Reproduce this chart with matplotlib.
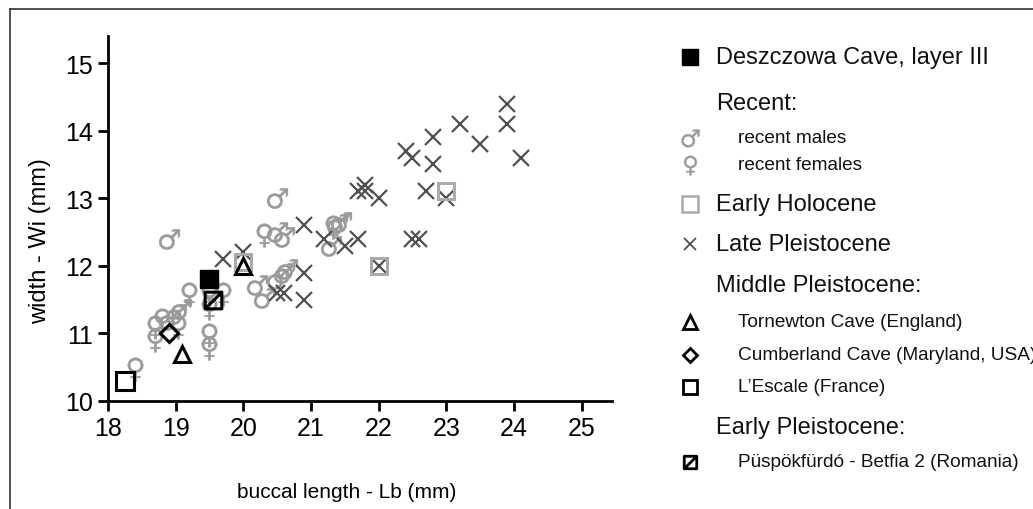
import matplotlib
matplotlib.use("Agg")
import matplotlib.pyplot as plt
from matplotlib.path import Path

plt.rcParams['font.family'] = ['Liberation Sans', 'DejaVu Sans']

# ---------------- data ----------------
deszczowa_x = [19.5]
deszczowa_y = [11.8]

males_x = [18.9, 20.5, 20.5, 20.6, 20.2, 20.3, 20.5, 20.6, 20.65, 21.38, 21.45, 21.3, 18.9, 19.0, 19.08]
males_y = [12.4, 13.0, 12.5, 12.42, 11.72, 11.52, 11.8, 11.9, 11.96, 12.62, 12.65, 12.3, 11.2, 11.28, 11.36]

females_x = [20.3, 19.2, 19.7, 19.5, 19.5, 19.5, 19.5, 18.7, 18.7, 18.8, 19.03, 18.4, 21.33]
females_y = [12.46, 11.58, 11.58, 11.58, 11.38, 10.98, 10.78, 11.1, 10.9, 11.2, 11.1, 10.48, 12.58]

holocene_x = [20.0, 22.0, 23.0]
holocene_y = [12.05, 12.0, 13.1]

late_x = [19.7, 20.0, 20.5, 20.6, 20.9, 20.9, 20.9, 21.2, 21.5, 21.7, 21.7, 21.8, 21.8,
          22.0, 22.0, 22.5, 22.6, 22.4, 22.5, 22.7, 22.8, 22.8, 23.0, 23.2, 23.5, 23.9, 23.9, 24.1]
late_y = [12.1, 12.2, 11.6, 11.6, 11.9, 11.5, 12.6, 12.4, 12.3, 12.4, 13.1, 13.1, 13.2,
          13.0, 12.0, 12.4, 12.4, 13.7, 13.6, 13.1, 13.5, 13.9, 13.0, 14.1, 13.8, 14.1, 14.4, 13.6]

tornewton_x = [19.1, 20.0]
tornewton_y = [10.7, 12.0]

cumberland_x = [18.9]
cumberland_y = [11.0]

escale_x = [18.25]
escale_y = [10.3]

puspok_x = [19.55]
puspok_y = [11.5]

x_ticks = [18, 19, 20, 21, 22, 23, 24, 25]
y_ticks = [10, 11, 12, 13, 14, 15]

legend_entries = [
    ("square_black", "Deszczowa Cave, layer III", "main"),
    (None, "Recent:", "header"),
    ("male", "recent males", "sub"),
    ("female", "recent females", "sub"),
    ("square_grey", "Early Holocene", "main"),
    ("x", "Late Pleistocene", "main"),
    (None, "Middle Pleistocene:", "header"),
    ("triangle", "Tornewton Cave (England)", "sub"),
    ("diamond", "Cumberland Cave (Maryland, USA)", "sub"),
    ("square_open", "L\u2019Escale (France)", "sub"),
    (None, "Early Pleistocene:", "header"),
    ("slash_square", "P\u00fcsp\u00f6kf\u00fcrd\u00f3 - Betfia 2 (Romania)", "sub"),
]
legend_rows_y = [58, 104, 139, 166, 205, 245, 286, 323, 356, 388, 428, 463]

# ---------------- styles ----------------
GREY = "#9a9a9a"
DGREY = "#505050"
slash_path = Path([(-1, -1), (1, -1), (1, 1), (-1, 1), (-1, -1), (-1, -1), (1, 1)],
                  [Path.MOVETO, Path.LINETO, Path.LINETO, Path.LINETO, Path.CLOSEPOLY,
                   Path.MOVETO, Path.LINETO])

W, H = 1033, 510
fig = plt.figure(figsize=(W / 100, H / 100), dpi=100)

# frame
frame = fig.add_axes([0, 0, 1, 1])
frame.set_xlim(0, W)
frame.set_ylim(H, 0)
frame.axis("off")
frame.plot([10, W], [10, 10], color="#333333", lw=1.2)
frame.plot([10, 10], [10, H], color="#333333", lw=1.2)

ax = fig.add_axes([108 / W, (H - 402) / H, 504 / W, 365 / H])
ax.set_xlim(18, 25.45)
ax.set_ylim(10, 15.4)
ax.set_facecolor("none")
for s in ["top", "right"]:
    ax.spines[s].set_visible(False)
for s in ["left", "bottom"]:
    ax.spines[s].set_linewidth(2)
ax.tick_params(axis="both", direction="out", length=7, width=2, labelsize=18, pad=4)
ax.set_xticks(x_ticks)
ax.set_yticks(y_ticks)

# axis titles (placed in pixel layout)
frame.text(347, 493, "buccal length - Lb (mm)", fontsize=15, ha="center", va="center")
frame.text(40, 241, "width - Wi (mm)", fontsize=17, ha="center", va="center", rotation=90)

ax.plot(males_x, males_y, ls="none", marker="$\u2642$", ms=15, color=GREY, mew=0.3, zorder=2)
ax.plot(females_x, females_y, ls="none", marker="$\u2640$", ms=17, color=GREY, mew=0.3, zorder=2)
ax.plot(late_x, late_y, ls="none", marker="x", ms=11, mew=1.6, color=DGREY, zorder=3)
ax.plot(holocene_x, holocene_y, ls="none", marker="s", ms=12, mfc="none", mec="#aaaaaa", mew=2.2, zorder=3)
ax.plot(tornewton_x, tornewton_y, ls="none", marker="^", ms=12, mfc="none", mec="black", mew=2.2, zorder=4)
ax.plot(cumberland_x, cumberland_y, ls="none", marker="D", ms=9, mfc="none", mec="black", mew=2.2, zorder=4)
ax.plot(escale_x, escale_y, ls="none", marker="s", ms=13, mfc="none", mec="black", mew=2.2, zorder=4)
ax.plot(puspok_x, puspok_y, ls="none", marker=slash_path, ms=12, mfc="none", mec="black", mew=2.2, zorder=4)
ax.plot(deszczowa_x, deszczowa_y, ls="none", marker="s", ms=13, color="black", zorder=5)

# ---------------- legend (manual) ----------------
marker_styles = {
    "square_black": dict(marker="s", ms=11, color="black"),
    "male": dict(marker="$\u2642$", ms=13, color=GREY, mew=0.3),
    "female": dict(marker="$\u2640$", ms=14, color=GREY, mew=0.3),
    "square_grey": dict(marker="s", ms=11, mfc="none", mec="#aaaaaa", mew=1.8),
    "x": dict(marker="x", ms=9, mew=1.3, color=DGREY),
    "triangle": dict(marker="^", ms=10, mfc="none", mec="black", mew=2),
    "diamond": dict(marker="D", ms=7, mfc="none", mec="black", mew=2),
    "square_open": dict(marker="s", ms=10, mfc="none", mec="black", mew=2),
    "slash_square": dict(marker=slash_path, ms=9, mfc="none", mec="black", mew=2),
}
for (mk, label, kind), yy in zip(legend_entries, legend_rows_y):
    if mk is not None:
        frame.plot([690], [yy], ls="none", **marker_styles[mk])
    if kind == "sub":
        frame.text(738, yy, label, fontsize=13.7, va="center", ha="left", color="#111111")
    else:
        frame.text(716, yy, label, fontsize=17, va="center", ha="left", color="#111111")

fig.savefig("out.png", dpi=100)
